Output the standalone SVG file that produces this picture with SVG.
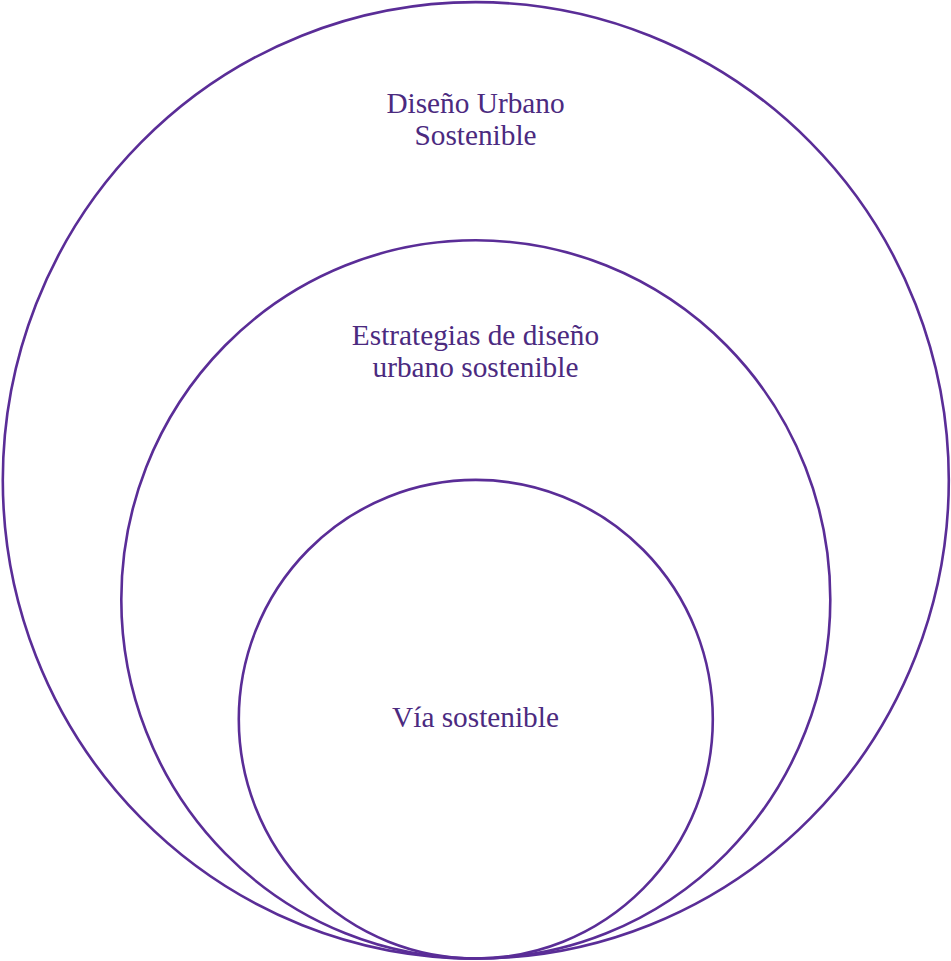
<svg xmlns="http://www.w3.org/2000/svg" width="951" height="961" viewBox="0 0 951 961">
<style>
.c{fill:none;stroke:#5a2d97;stroke-width:2.6}
.t{font-family:"Liberation Serif","Times New Roman",serif;font-size:29.3px;fill:#4b2a7f;text-anchor:middle}
</style>
<rect width="951" height="961" fill="#ffffff"/>
<g id="outer">
<ellipse class="c" cx="475.8" cy="480.3" rx="473" ry="478.2"/>
<text class="t" x="475.5" y="113">Diseño Urbano</text>
<text class="t" x="475.5" y="145">Sostenible</text>
</g>
<g id="middle">
<ellipse class="c" cx="475.8" cy="599.4" rx="354.5" ry="359.1"/>
<text class="t" x="475.5" y="345">Estrategias de diseño</text>
<text class="t" x="475.5" y="377">urbano sostenible</text>
</g>
<g id="inner">
<ellipse class="c" cx="475.8" cy="719.2" rx="237" ry="239.3"/>
<text class="t" x="475.5" y="727">Vía sostenible</text>
</g>
<g id="connectors"></g>
</svg>
